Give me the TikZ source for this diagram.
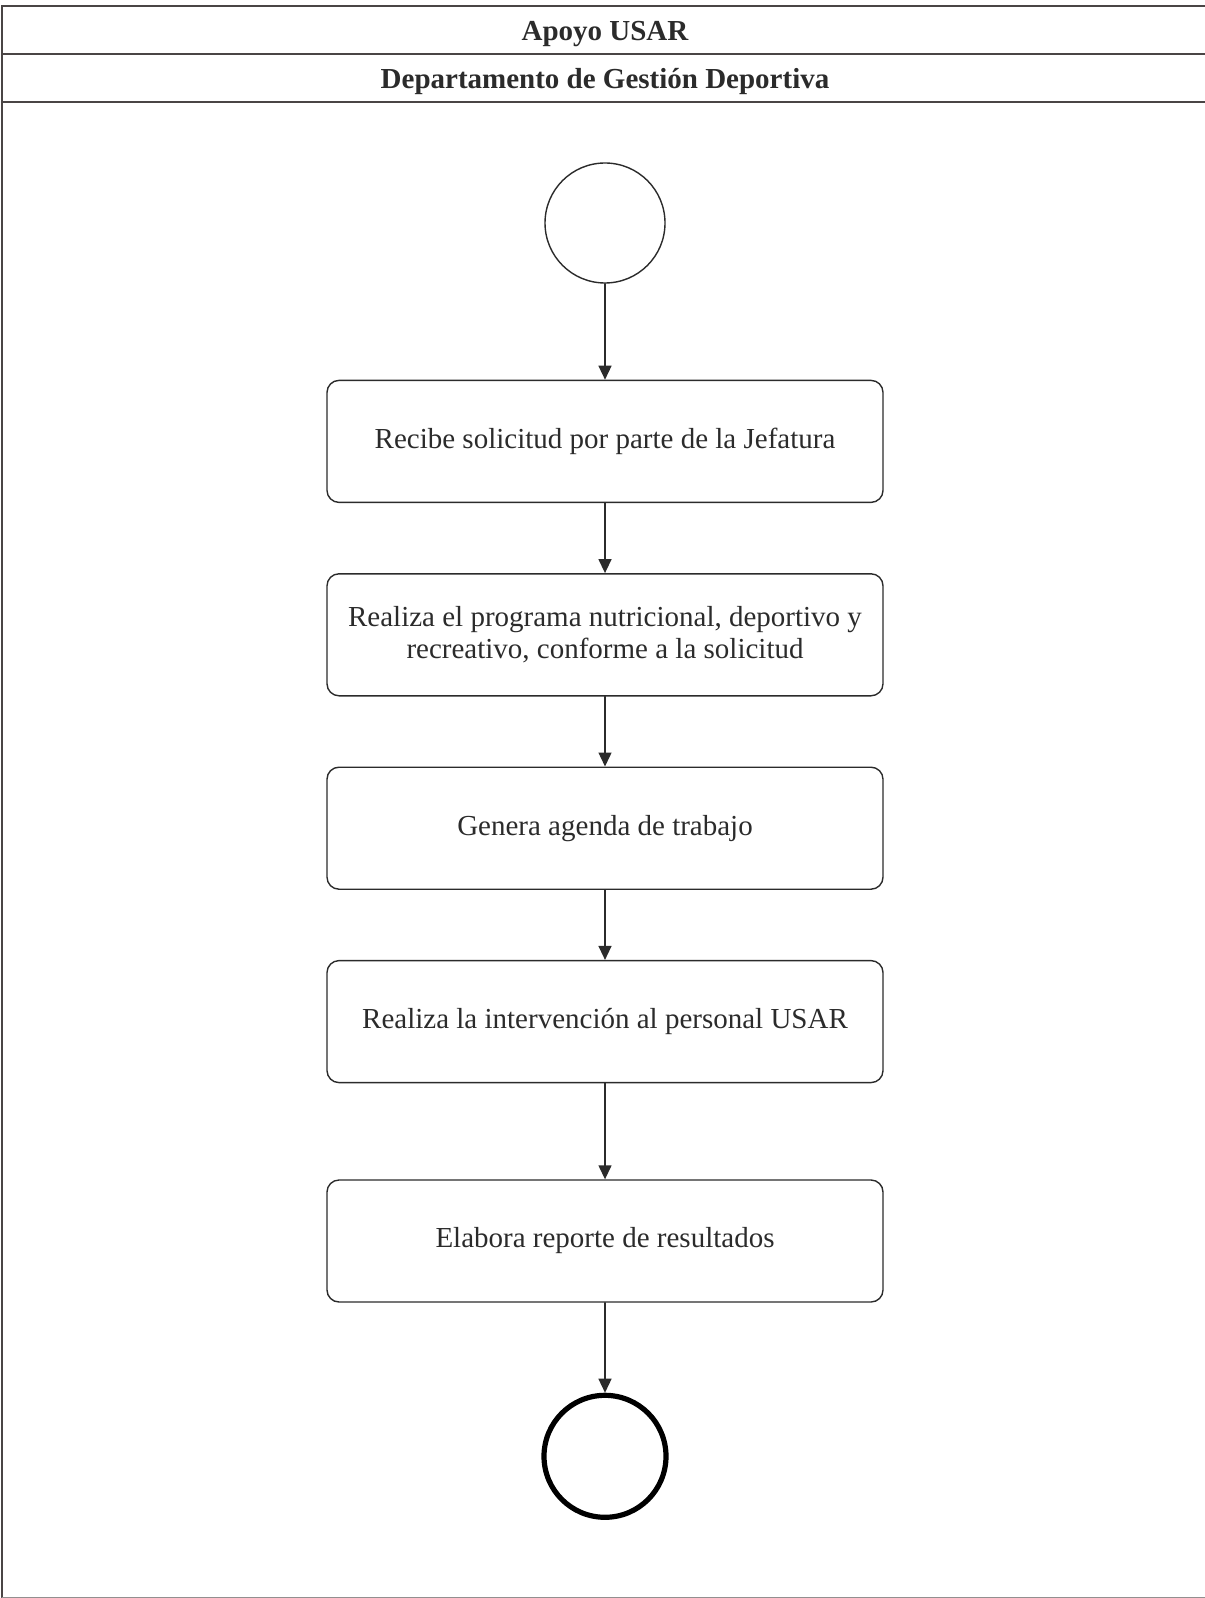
\documentclass[tikz,border=0pt]{standalone}
\usepackage{fontspec}
\setmainfont{Liberation Serif}
\usetikzlibrary{positioning, arrows.meta}

\begin{document}
\begin{tikzpicture}[
    x=0.5pt, y=-0.5pt,
    >={Triangle[length=7pt,width=6.5pt]},
    node distance=35pt,
    every path/.style={line cap=round},
]
% ── Colours ──
\definecolor{ink}{HTML}{2B2B2B}
\definecolor{lane}{HTML}{4A4545}

% ── Styles ──
\tikzset{
    act-box/.style={
        draw=ink, rectangle, rounded corners=6pt,
        minimum width=278pt, minimum height=61pt,
        align=center, font=\fontsize{14.5}{16}\selectfont,
        text=ink, line width=0.7pt, inner sep=2pt,
    },
    start-node/.style={draw=ink, circle, minimum size=60pt, line width=0.7pt},
    end-node/.style={draw=black, circle, minimum size=61pt, line width=2.6pt},
    flow/.style={->, line width=0.7pt, draw=ink},
    lane-title/.style={font=\bfseries\fontsize{14.5}{16}\selectfont, text=ink},
}

\useasboundingbox (0,0) rectangle (1204,1598);

% ── Swimlane frame ──
\draw[lane, line width=0.9pt] (2,1599) -- (2,6) -- (1207,6);
\draw[lane, line width=1.2pt] (2,54) -- (1207,54);
\draw[lane, line width=1.2pt] (2,102) -- (1207,102);
\draw[lane!60, line width=0.5pt] (2,1597) -- (1207,1597);
\node[lane-title] (pool) at (605,34) {Apoyo USAR};
\node[lane-title] (dept) at (605,82) {Departamento de Gestión Deportiva};

% ── Start ──
\node[start-node] (start) at (605,223) {};

% ── Activities ──
\node[act-box, below=48pt of start] (a1) {Recibe solicitud por parte de la Jefatura};
\node[act-box, below=of a1] (a2) {Realiza el programa nutricional, deportivo y\\recreativo, conforme a la solicitud};
\node[act-box, below=of a2] (a3) {Genera agenda de trabajo};
\node[act-box, below=of a3] (a4) {Realiza la intervención al personal USAR};
\node[act-box, below=48pt of a4] (a5) {Elabora reporte de resultados};

% ── End ──
\node[end-node, below=45pt of a5] (stop) {};

% ── Flow arrows ──
\draw[flow] (start) -- (a1);
\draw[flow] (a1) -- (a2);
\draw[flow] (a2) -- (a3);
\draw[flow] (a3) -- (a4);
\draw[flow] (a4) -- (a5);
\draw[flow] (a5) -- (stop);

\end{tikzpicture}
\end{document}
